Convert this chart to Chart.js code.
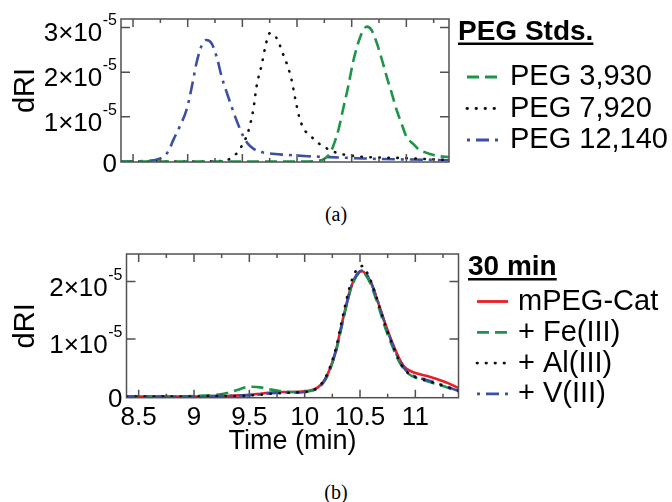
<!DOCTYPE html>
<html><head><meta charset="utf-8">
<script src="https://cdn.jsdelivr.net/npm/chart.js@4"></script>
<style>
html,body{margin:0;padding:0;background:#fff;width:672px;height:502px;overflow:hidden;}
canvas{position:absolute;left:0;}
#c1{top:0;} #c2{top:240px;}
.cap{position:absolute;width:672px;left:0;text-align:center;font-family:"Liberation Serif","DejaVu Serif",serif;font-size:20px;line-height:22px;color:#000;}
</style></head><body>
<canvas id="c1" width="672" height="200"></canvas>
<canvas id="c2" width="672" height="240"></canvas>
<div class="cap" style="top:203px">(a)</div>
<div class="cap" style="top:481px">(b)</div>
<script>
const FONT = '"Liberation Sans", Arial, Helvetica, sans-serif';

// ---------- panel (a): PEG standards (dRI in units of 1e-5) ----------
const topXTicks = [8.5, 9, 9.5, 10, 10.5, 11];
const topXMinorTicks = [8.75, 9.25, 9.75, 10.25, 10.75, 11.25];
const topYTicks = [0, 1, 2, 3];
const topYTickLabels = ['0', '1×10^-5', '2×10^-5', '3×10^-5'];
const topSeriesNames = ['PEG 3,930', 'PEG 7,920', 'PEG 12,140'];

const peg3930Time = [8.39, 9.5, 10.0, 10.2, 10.26, 10.3, 10.33, 10.38, 10.42, 10.47, 10.51, 10.55, 10.58, 10.61, 10.64, 10.68, 10.73, 10.78, 10.82, 10.87, 10.91, 10.96, 11.0, 11.06, 11.12, 11.18, 11.24, 11.3, 11.39];
const peg3930dRI  = [0, 0, 0, 0.02, 0.08, 0.18, 0.34, 0.72, 1.16, 1.7, 2.2, 2.58, 2.8, 2.96, 3.02, 2.95, 2.65, 2.25, 1.9, 1.5, 1.16, 0.82, 0.56, 0.4, 0.26, 0.2, 0.15, 0.12, 0.1];

const peg7920Time = [8.39, 9.0, 9.3, 9.4, 9.46, 9.51, 9.55, 9.6, 9.63, 9.68, 9.71, 9.75, 9.79, 9.83, 9.87, 9.905, 9.95, 9.98, 10.02, 10.06, 10.13, 10.18, 10.24, 10.3, 10.37, 10.47, 10.58, 10.75, 10.95, 11.15, 11.39];
const peg7920dRI  = [0, 0, 0.01, 0.08, 0.22, 0.42, 0.64, 1.16, 1.68, 2.2, 2.57, 2.87, 2.84, 2.68, 2.42, 2.2, 1.83, 1.45, 1.0, 0.74, 0.56, 0.44, 0.34, 0.26, 0.19, 0.14, 0.11, 0.09, 0.08, 0.06, 0.03];

const peg12140Time = [8.39, 8.6, 8.75, 8.82, 8.87, 8.93, 8.99, 9.04, 9.08, 9.13, 9.17, 9.22, 9.27, 9.31, 9.35, 9.39, 9.43, 9.47, 9.51, 9.55, 9.6, 9.66, 9.75, 9.9, 10.1, 10.3, 10.6, 10.9, 11.2, 11.39];
const peg12140dRI  = [0, 0.01, 0.07, 0.22, 0.49, 0.8, 1.16, 1.7, 2.2, 2.61, 2.72, 2.64, 2.3, 1.9, 1.6, 1.31, 1.03, 0.78, 0.56, 0.4, 0.29, 0.22, 0.18, 0.15, 0.12, 0.1, 0.07, 0.05, 0.04, 0.03];

// ---------- panel (b): 30 min (dRI in units of 1e-5) ----------
const bottomXTicks = [8.5, 9, 9.5, 10, 10.5, 11];
const bottomXTickLabels = ['8.5', '9', '9.5', '10', '10.5', '11'];
const bottomXMinorTicks = [8.75, 9.25, 9.75, 10.25, 10.75, 11.25];
const bottomYTicks = [0, 1, 2];
const bottomYTickLabels = ['0', '1×10^-5', '2×10^-5'];
const bottomSeriesNames = ['mPEG-Cat', '+ Fe(III)', '+ Al(III)', '+ V(III)'];

const bottomTime = [8.39, 8.6, 8.8, 9.0, 9.2, 9.3, 9.4, 9.5, 9.6, 9.7, 9.8, 9.9, 10.0, 10.06, 10.12, 10.17, 10.21, 10.25, 10.29, 10.33, 10.37, 10.41, 10.45, 10.49, 10.52, 10.55, 10.59, 10.63, 10.67, 10.71, 10.75, 10.8, 10.85, 10.9, 10.95, 11.0, 11.1, 11.2, 11.3, 11.39];
const mpegCatdRI = [0, 0, 0, 0, 0.01, 0.01, 0.02, 0.03, 0.05, 0.07, 0.08, 0.08, 0.09, 0.11, 0.16, 0.26, 0.4, 0.6, 0.86, 1.22, 1.55, 1.85, 2.05, 2.16, 2.18, 2.14, 2.02, 1.83, 1.6, 1.37, 1.15, 0.9, 0.68, 0.52, 0.45, 0.41, 0.36, 0.3, 0.23, 0.15];
const feIIIdRI   = [0, 0, 0, 0.01, 0.03, 0.06, 0.12, 0.17, 0.16, 0.12, 0.09, 0.08, 0.08, 0.1, 0.15, 0.25, 0.38, 0.58, 0.84, 1.18, 1.52, 1.82, 2.03, 2.15, 2.17, 2.12, 1.98, 1.78, 1.55, 1.3, 1.08, 0.84, 0.62, 0.47, 0.38, 0.33, 0.27, 0.21, 0.15, 0.09];
const alIIIdRI   = [0, 0, 0, 0, 0.01, 0.01, 0.01, 0.02, 0.03, 0.05, 0.06, 0.07, 0.08, 0.1, 0.16, 0.27, 0.42, 0.63, 0.9, 1.27, 1.62, 1.93, 2.14, 2.25, 2.27, 2.2, 2.05, 1.84, 1.6, 1.35, 1.12, 0.87, 0.64, 0.48, 0.39, 0.34, 0.28, 0.22, 0.16, 0.1];
const vIIIdRI    = [0, 0, 0, 0, 0.01, 0.01, 0.02, 0.02, 0.04, 0.06, 0.07, 0.07, 0.08, 0.1, 0.15, 0.25, 0.39, 0.59, 0.85, 1.2, 1.53, 1.84, 2.05, 2.17, 2.19, 2.15, 2.03, 1.83, 1.6, 1.36, 1.13, 0.88, 0.65, 0.49, 0.4, 0.35, 0.29, 0.23, 0.16, 0.1];

const GREEN = '#1d9447', BLACK = '#111111', BLUE = '#3b4fa6', RED = '#ee1c25';
const DASH = [12, 6], DOT = [0.5, 8.5], DASHDOT = [13, 6, 3, 6];

function pts(xs, ys) { return xs.map((x, i) => ({ x: x, y: ys[i] })); }
function ds(label, xs, ys, color, dash, cap, order) {
  return { label, data: pts(xs, ys), borderColor: color, backgroundColor: color,
    borderDash: dash, borderCapStyle: cap || 'butt', borderWidth: 2.6, fill: false,
    pointRadius: 0, cubicInterpolationMode: 'monotone', order: order || 0 };
}

function drawYLabel(ctx, text, xRight, y) {
  const parts = text.split('^');
  ctx.textAlign = 'right'; ctx.textBaseline = 'alphabetic';
  if (parts.length === 2) {
    ctx.font = '16px ' + FONT;
    const w = ctx.measureText(parts[1]).width;
    ctx.fillText(parts[1], xRight, y - 2);
    ctx.font = '26px ' + FONT;
    ctx.fillText(parts[0], xRight - w - 0.5, y + 14);
  } else {
    ctx.font = '26px ' + FONT;
    ctx.fillText(parts[0], xRight, y + 10);
  }
}

const panelPlugin = {
  id: 'panel',
  afterDraw(chart, args, o) {
    const ctx = chart.ctx, a = chart.chartArea, xs = chart.scales.x, ys = chart.scales.y;
    ctx.save();
    ctx.setLineDash([]);
    ctx.strokeStyle = '#505050'; ctx.lineWidth = 1.5;
    ctx.strokeRect(a.left, a.top, a.right - a.left, a.bottom - a.top);
    ctx.beginPath();
    o.xTicks.forEach(v => { const x = xs.getPixelForValue(v);
      ctx.moveTo(x, a.bottom); ctx.lineTo(x, a.bottom - 8); ctx.moveTo(x, a.top); ctx.lineTo(x, a.top + 8); });
    o.xMinor.forEach(v => { const x = xs.getPixelForValue(v);
      ctx.moveTo(x, a.bottom); ctx.lineTo(x, a.bottom - 4); ctx.moveTo(x, a.top); ctx.lineTo(x, a.top + 4); });
    o.yTicks.forEach(v => { if (v === 0) return; const y = ys.getPixelForValue(v);
      ctx.moveTo(a.left, y); ctx.lineTo(a.left + 9, y); ctx.moveTo(a.right, y); ctx.lineTo(a.right - 9, y); });
    ctx.stroke();
    ctx.fillStyle = '#000';
    o.yTicks.forEach((v, i) => drawYLabel(ctx, o.yLabels[i], a.left - 4, ys.getPixelForValue(v)));
    if (o.xLabels) {
      ctx.font = '26px ' + FONT; ctx.textAlign = 'center'; ctx.textBaseline = 'alphabetic';
      o.xTicks.forEach((v, i) => ctx.fillText(o.xLabels[i], xs.getPixelForValue(v), a.bottom + 27));
    }
    if (o.xTitle) {
      ctx.font = '27px ' + FONT; ctx.textAlign = 'center';
      ctx.fillText(o.xTitle, (a.left + a.right) / 2, a.bottom + 51);
    }
    ctx.save();
    ctx.translate(34, (a.top + a.bottom) / 2); ctx.rotate(-Math.PI / 2);
    ctx.font = '29px ' + FONT; ctx.textAlign = 'center'; ctx.textBaseline = 'alphabetic';
    ctx.fillText(o.yTitle, 0, 0);
    ctx.restore();
    const L = o.legend;
    ctx.font = 'bold 28px ' + FONT; ctx.textAlign = 'left'; ctx.textBaseline = 'alphabetic';
    ctx.fillText(L.title, L.titleX, L.titleBaseline);
    const tw = ctx.measureText(L.title).width;
    ctx.fillRect(L.titleX, L.titleBaseline + 3, tw, 2.5);
    ctx.font = '29px ' + FONT;
    chart.data.datasets.forEach((d, i) => {
      const cy = L.rowY0 + i * L.rowStep;
      ctx.fillStyle = '#000';
      ctx.fillText(d.label, L.textX, cy + 10.4);
      ctx.beginPath();
      ctx.strokeStyle = d.borderColor; ctx.lineWidth = 2.8;
      ctx.lineCap = d.borderCapStyle;
      ctx.setLineDash(d.borderDash || []);
      ctx.lineDashOffset = (d.borderDash === DASHDOT) ? 19 : 0;
      ctx.moveTo(L.sampleX0, cy + 2); ctx.lineTo(L.sampleX1, cy + 2);
      ctx.stroke();
      ctx.setLineDash([]); ctx.lineDashOffset = 0; ctx.lineCap = 'butt';
    });
    ctx.restore();
  }
};

function makeChart(id, datasets, pad, yMin, yMax, panel) {
  return new Chart(document.getElementById(id), {
    type: 'line',
    data: { datasets },
    options: {
      responsive: false, animation: false, devicePixelRatio: 1,
      layout: { padding: pad },
      scales: {
        x: { type: 'linear', display: false, min: 8.39, max: 11.39 },
        y: { type: 'linear', display: false, min: yMin, max: yMax }
      },
      plugins: { legend: { display: false }, tooltip: { enabled: false }, panel },
      elements: { point: { radius: 0 } }
    },
    plugins: [panelPlugin]
  });
}

makeChart('c1', [
  ds(topSeriesNames[0], peg3930Time, peg3930dRI, GREEN, DASH),
  ds(topSeriesNames[1], peg7920Time, peg7920dRI, BLACK, DOT, 'round'),
  ds(topSeriesNames[2], peg12140Time, peg12140dRI, BLUE, DASHDOT)
], { left: 121, top: 19, right: 223, bottom: 38 }, -0.01, 3.19, {
  xTicks: topXTicks, xMinor: topXMinorTicks, xLabels: null,
  yTicks: topYTicks, yLabels: topYTickLabels, yTitle: 'dRI', xTitle: null,
  legend: { title: 'PEG Stds.', titleX: 458, titleBaseline: 39.5, rowY0: 75, rowStep: 31.5,
            sampleX0: 467, sampleX1: 498, textX: 510 }
});

makeChart('c2', [
  ds(bottomSeriesNames[0], bottomTime, mpegCatdRI, RED, [], 'butt', 3),
  ds(bottomSeriesNames[1], bottomTime, feIIIdRI, GREEN, DASH, 'butt', 2),
  ds(bottomSeriesNames[2], bottomTime, alIIIdRI, BLACK, DOT, 'round', 0),
  ds(bottomSeriesNames[3], bottomTime, vIIIdRI, BLUE, DASHDOT, 'butt', 1)
], { left: 126.5, top: 14, right: 213.5, bottom: 82.3 }, -0.02, 2.48, {
  xTicks: bottomXTicks, xMinor: bottomXMinorTicks, xLabels: bottomXTickLabels,
  yTicks: bottomYTicks, yLabels: bottomYTickLabels, yTitle: 'dRI', xTitle: 'Time (min)',
  legend: { title: '30 min', titleX: 468, titleBaseline: 35, rowY0: 59.5, rowStep: 30.8,
            sampleX0: 477, sampleX1: 508, textX: 518 }
});
</script>
</body></html>
